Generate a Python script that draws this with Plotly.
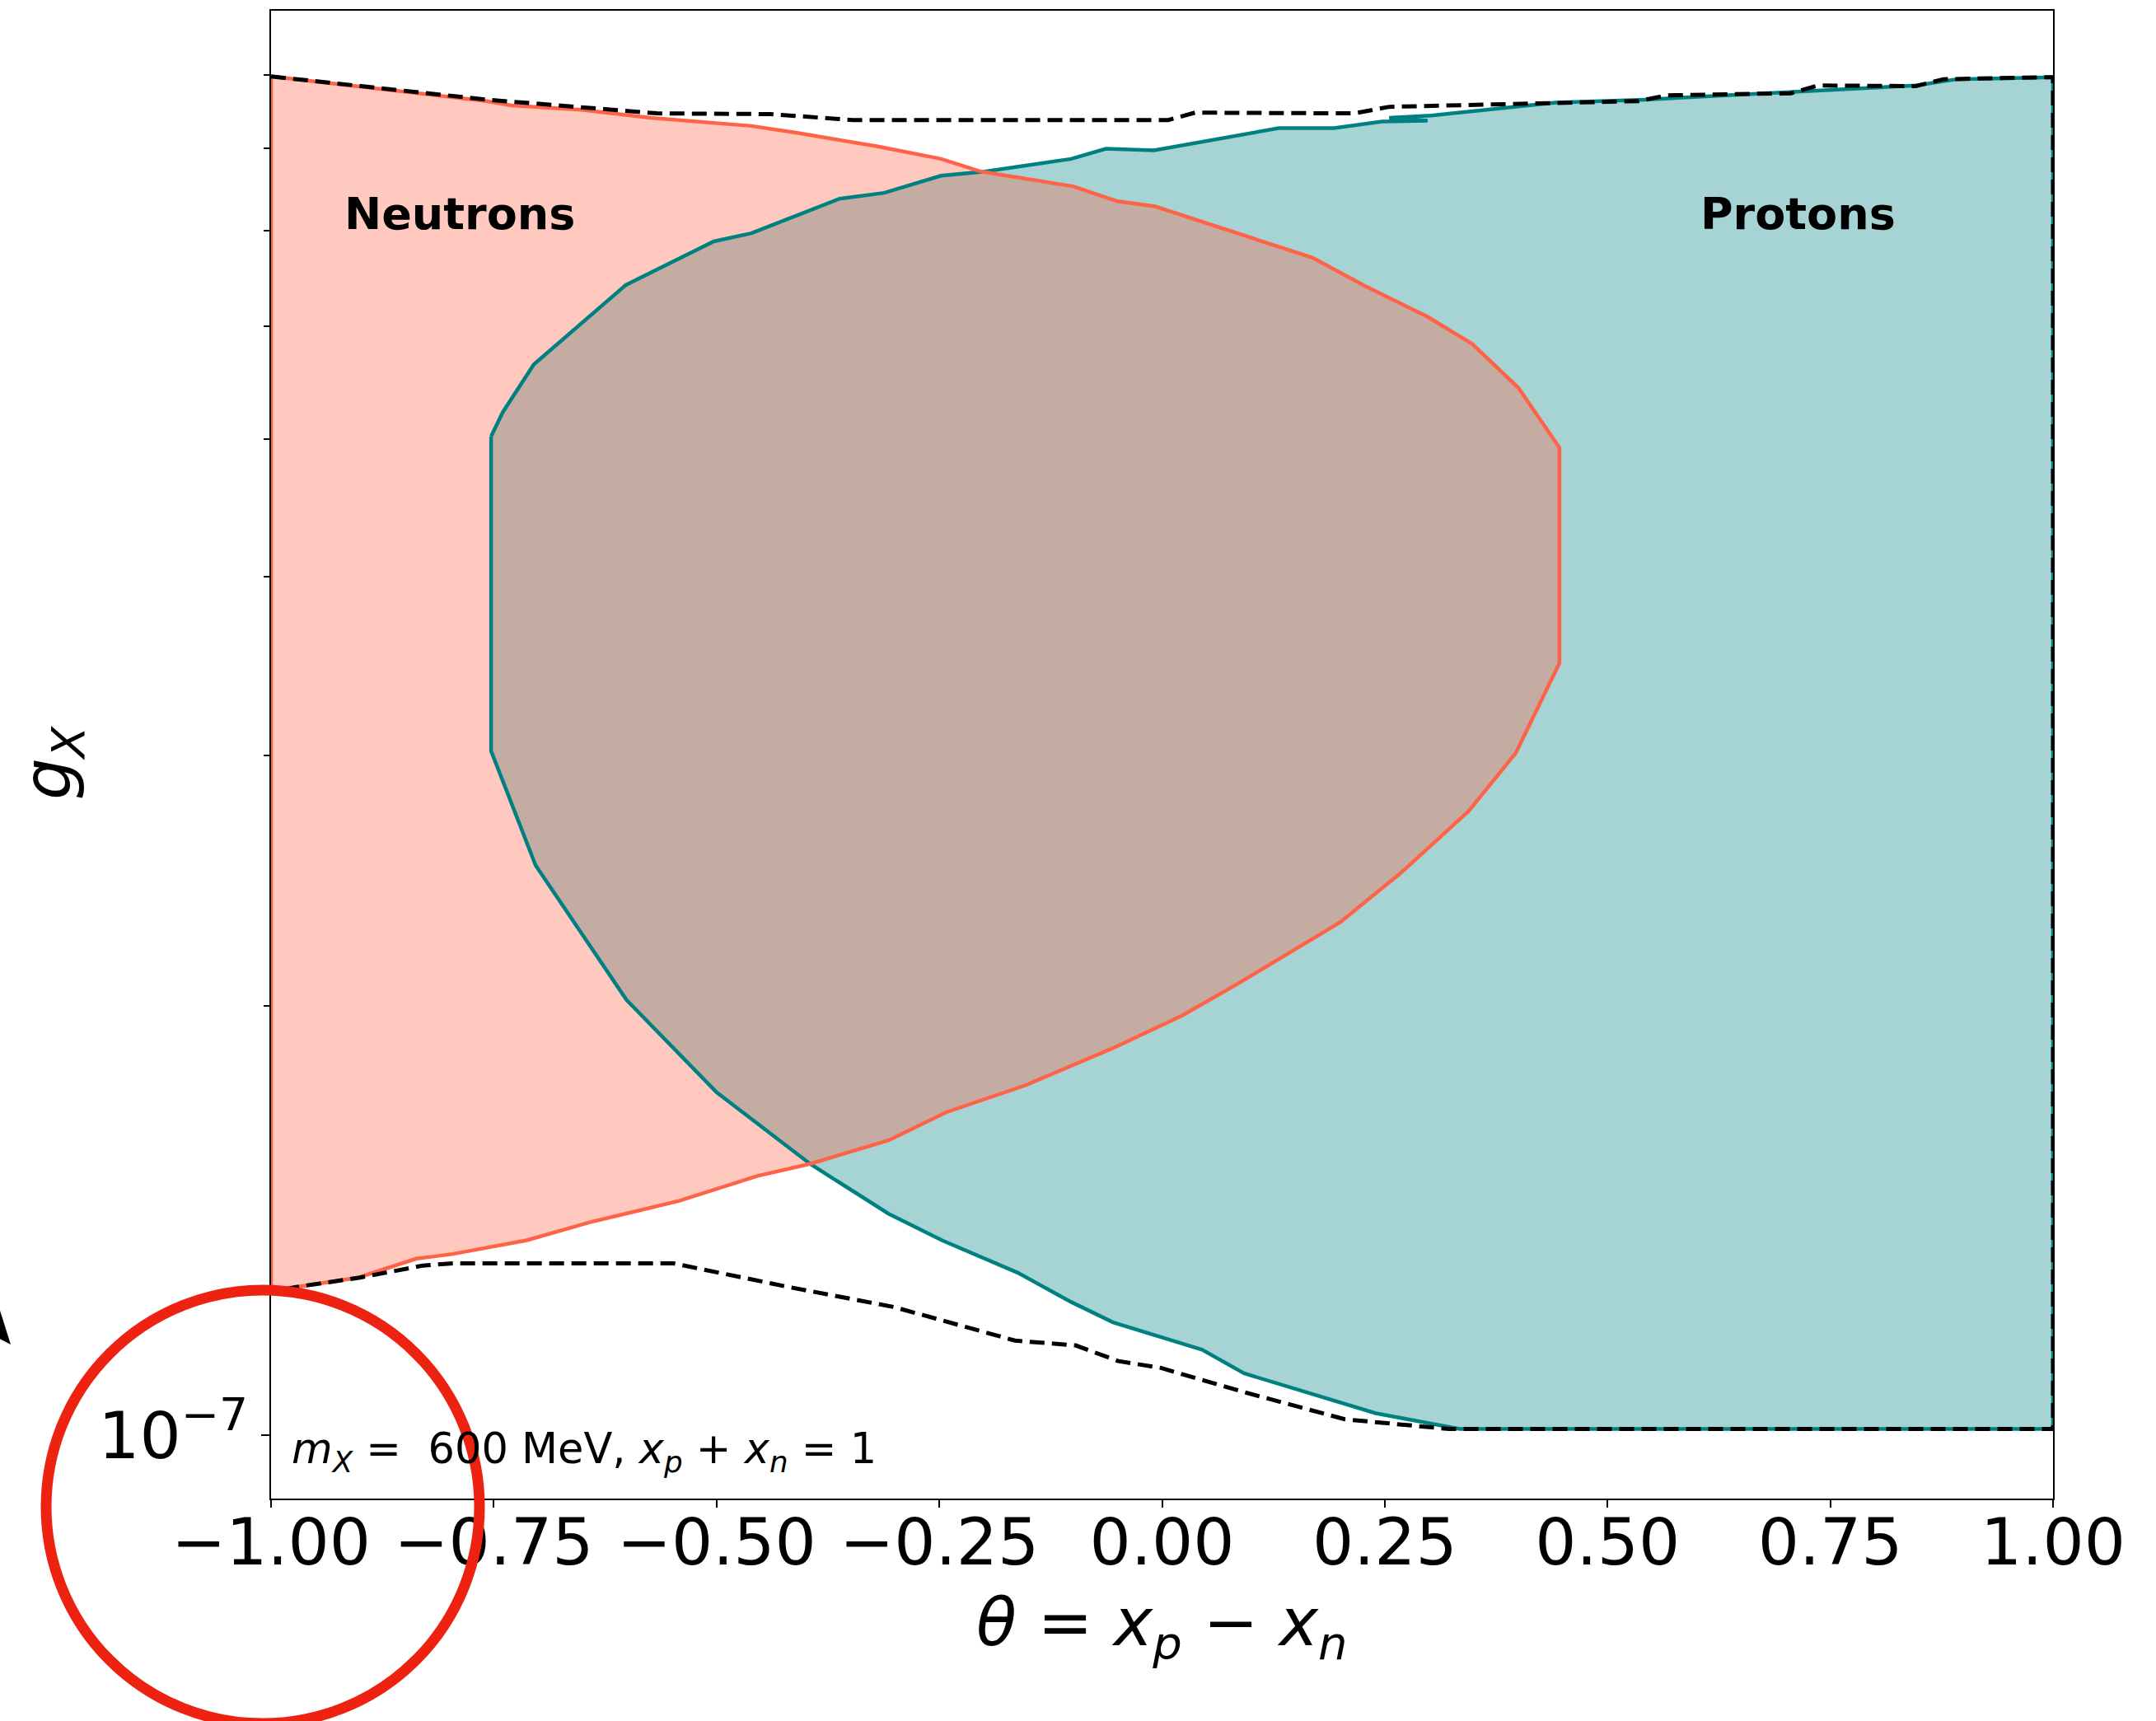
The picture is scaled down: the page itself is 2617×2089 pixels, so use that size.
import plotly.graph_objects as go

# ---------------------------------------------------------------------------
# Allowed regions in the (theta, g_X) plane for m_X = 600 MeV, x_p + x_n = 1.
# Coupling values g_X are given in units of 1e-7.
# ---------------------------------------------------------------------------
G_UNIT = 1e-7

neutron_upper_theta = [-1.0, -0.758, -0.73, -0.652, -0.574, -0.461, -0.411, -0.319,
                       -0.248, -0.203, -0.100, -0.050, -0.008, 0.083, 0.169, 0.228,
                       0.298, 0.348, 0.400, 0.446]
neutron_upper_g = [8.98, 8.63, 8.57, 8.51, 8.40, 8.29, 8.20, 8.02,
                   7.86, 7.70, 7.52, 7.34, 7.28, 6.98, 6.70, 6.40,
                   6.09, 5.83, 5.43, 4.93]

neutron_lower_theta = [-1.0, -0.973, -0.902, -0.837, -0.796, -0.713, -0.643, -0.542,
                       -0.454, -0.395, -0.307, -0.242, -0.153, -0.054, 0.023, 0.083,
                       0.200, 0.268, 0.344, 0.397, 0.446]
neutron_lower_g = [1.26, 1.27, 1.29, 1.33, 1.34, 1.37, 1.41, 1.46,
                   1.52, 1.55, 1.61, 1.685, 1.76, 1.87, 1.97, 2.07,
                   2.29, 2.48, 2.74, 3.01, 3.48]

proton_upper_theta = [-0.753, -0.740, -0.705, -0.602, -0.503, -0.461, -0.362, -0.348,
                      -0.312, -0.248, -0.199, -0.102, -0.063, -0.009, 0.131, 0.193,
                      0.247, 0.298, 0.255, 0.302, 0.442, 0.542, 0.713, 0.846,
                      0.892, 1.0]
proton_upper_g = [5.02, 5.22, 5.64, 6.41, 6.88, 6.97, 7.37, 7.39,
                  7.44, 7.65, 7.70, 7.86, 7.99, 7.97, 8.26, 8.26,
                  8.35, 8.36, 8.40, 8.43, 8.61, 8.65, 8.76, 8.85,
                  8.94, 8.97]

proton_lower_theta = [-0.753, -0.703, -0.601, -0.500, -0.395, -0.307, -0.247, -0.162,
                      -0.102, -0.055, 0.045, 0.092, 0.240, 0.334, 1.0]
proton_lower_g = [3.02, 2.51, 2.02, 1.74, 1.55, 1.43, 1.37, 1.30,
                  1.24, 1.20, 1.148, 1.105, 1.036, 1.01, 1.01]

bound_upper_theta = [-1.0, -0.758, -0.567, -0.440, -0.347, 0.007, 0.037, 0.216,
                     0.255, 0.403, 0.535, 0.566, 0.706, 0.736, 0.846, 0.877, 1.0]
bound_upper_g = [8.98, 8.65, 8.46, 8.45, 8.37, 8.37, 8.47, 8.46,
                 8.55, 8.59, 8.63, 8.71, 8.74, 8.85, 8.84, 8.94, 8.97]

bound_lower_theta = [-1.0, -0.973, -0.900, -0.830, -0.796, -0.549, -0.418, -0.301,
                     -0.165, -0.097, -0.049, -0.002, 0.092, 0.205, 0.322, 1.0]
bound_lower_g = [1.26, 1.27, 1.29, 1.315, 1.32, 1.32, 1.27, 1.23,
                 1.165, 1.156, 1.127, 1.115, 1.072, 1.026, 1.01, 1.01]

x_tick_vals = [-1.0, -0.75, -0.5, -0.25, 0.0, 0.25, 0.5, 0.75, 1.0]
x_tick_text = ["\u22121.00", "\u22120.75", "\u22120.50", "\u22120.25", "0.00",
               "0.25", "0.50", "0.75", "1.00"]
y_major_vals = [1e-7]
y_major_text = ["10<sup>\u22127</sup>"]
y_minor_vals = [k * 1e-7 for k in range(2, 10)]


def scaled(values):
    return [v * G_UNIT for v in values]


def closed_region(up_t, up_g, lo_t, lo_g):
    """Polygon running along the upper edge and back along the lower edge."""
    xs = list(up_t) + list(reversed(lo_t)) + [up_t[0]]
    ys = scaled(list(up_g) + list(reversed(lo_g)) + [up_g[0]])
    return xs, ys


# ---------------------------------------------------------------------------
# Page geometry
# ---------------------------------------------------------------------------
W, H = 2617, 2089
ML, MR, MT, MB = 329, 125, 13, 270
PW, PH = W - ML - MR, H - MT - MB


def paper(px, py):
    return (px - ML) / PW, (H - MB - py) / PH


FONT = "DejaVu Sans"
TOMATO = "#FF6347"
TEAL = "#008080"

fig = go.Figure()

px_, py_ = closed_region(proton_upper_theta, proton_upper_g,
                         proton_lower_theta, proton_lower_g)
nx_, ny_ = closed_region(neutron_upper_theta, neutron_upper_g,
                         neutron_lower_theta, neutron_lower_g)

# filled regions
fig.add_trace(go.Scatter(x=px_, y=py_, mode="lines", fill="toself",
                         fillcolor="rgba(0,128,128,0.35)",
                         line=dict(width=0), hoverinfo="skip", showlegend=False))
fig.add_trace(go.Scatter(x=nx_, y=ny_, mode="lines", fill="toself",
                         fillcolor="rgba(255,99,71,0.35)",
                         line=dict(width=0), hoverinfo="skip", showlegend=False))

# region outlines
fig.add_trace(go.Scatter(x=px_, y=py_, mode="lines",
                         line=dict(color=TEAL, width=4.5),
                         hoverinfo="skip", showlegend=False))
fig.add_trace(go.Scatter(x=nx_, y=ny_, mode="lines",
                         line=dict(color=TOMATO, width=4.5),
                         hoverinfo="skip", showlegend=False))

# combined bound (dashed)
bx = list(bound_upper_theta) + list(reversed(bound_lower_theta))
by = scaled(list(bound_upper_g) + list(reversed(bound_lower_g)))
fig.add_trace(go.Scatter(x=bx, y=by, mode="lines",
                         line=dict(color="black", width=5, dash="18px,9px"),
                         hoverinfo="skip", showlegend=False))

axis_common = dict(
    showline=True, linecolor="black", linewidth=2, mirror=True,
    showgrid=False, zeroline=False,
    ticks="outside", tickcolor="black", tickwidth=2,
    tickfont=dict(family=FONT, size=79, color="black"),
)

fig.update_xaxes(range=[-1.0, 1.0], tickmode="array", tickvals=x_tick_vals,
                 ticktext=x_tick_text, ticklen=9, ticklabelstandoff=-26,
                 **axis_common)
fig.update_yaxes(type="log", range=[-7.0445, -6.0006], tickmode="array",
                 tickvals=y_major_vals, ticktext=y_major_text, ticklen=10,
                 minor=dict(tickmode="array", tickvals=y_minor_vals,
                            ticks="outside", ticklen=7, tickwidth=1.5,
                            tickcolor="black", showgrid=False),
                 **axis_common)

annotations = []


def add_text(text, px, py, size, xanchor="center", yanchor="middle", angle=0):
    x, y = paper(px, py)
    annotations.append(dict(text=text, x=x, y=y, xref="paper", yref="paper",
                            xanchor=xanchor, yanchor=yanchor, showarrow=False,
                            textangle=angle,
                            font=dict(family=FONT, size=size, color="black")))


add_text("<b>Neutrons</b>", 558, 259, 54)
add_text("<b>Protons</b>", 2182, 259, 54)
add_text("<i>m</i><sub><i>X</i></sub> =\u00a0\u00a0600 MeV, "
         "<i>x</i><sub><i>p</i></sub> + <i>x</i><sub><i>n</i></sub> = 1",
         352, 1762, 51, xanchor="left")
add_text("<i>\u03b8</i> = <i>x</i><sub><i>p</i></sub> \u2212 <i>x</i><sub><i>n</i></sub>",
         1410, 1975, 80)
add_text("<i>g</i><sub><i>X</i></sub>", 63, 926, 80, angle=-90)

# red highlight ring and arrow head near the lower-left corner
cx0, cy0 = paper(56, 2092)
cx1, cy1 = paper(582, 1566)
a1 = paper(-10, 1559)
a2 = paper(13, 1632)
a3 = paper(-10, 1620)
shapes = [
    dict(type="circle", xref="paper", yref="paper", x0=cx0, y0=cy0, x1=cx1, y1=cy1,
         line=dict(color="#EE2211", width=13), fillcolor="rgba(0,0,0,0)",
         layer="above"),
    dict(type="path", xref="paper", yref="paper",
         path=f"M {a1[0]} {a1[1]} L {a2[0]} {a2[1]} L {a3[0]} {a3[1]} Z",
         fillcolor="black", line=dict(width=0), layer="above"),
]

fig.update_layout(
    width=W, height=H,
    margin=dict(l=ML, r=MR, t=MT, b=MB, pad=0),
    paper_bgcolor="white", plot_bgcolor="white",
    showlegend=False,
    annotations=annotations,
    shapes=shapes,
    font=dict(family=FONT, color="black"),
)

fig.write_html("out.html")
